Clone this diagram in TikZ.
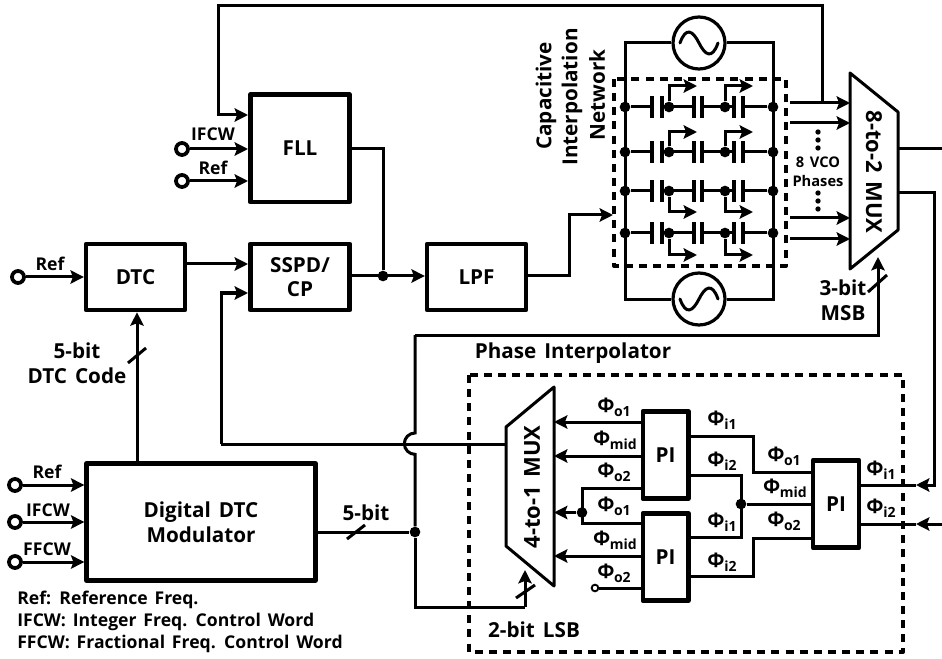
\documentclass[tikz,border=0pt]{standalone}
\usepackage{fontspec}
\setmainfont{Open Sans}[WordSpace=1.5]
\usepackage{tikz}
\usetikzlibrary{arrows.meta}
\def\labfont{\fontsize{13.2}{15}\selectfont\bfseries}
\def\bigfont{\fontsize{15.5}{19}\selectfont\bfseries}
\def\muxfont{\fontsize{16.5}{19}\selectfont\bfseries}
\def\ph#1{\fontsize{15}{16}\selectfont\bfseries Φ\kern-0.3pt\raisebox{-0.35ex}{\fontsize{10.5}{11}\selectfont #1}}
\def\busmark(#1)(#2)% Syntax: (first end) (second end)
    { \draw[wire] (#1) -- (#2); }
\tikzset{
  >={Stealth[length=10pt,width=10pt,inset=1.8pt]},
  wire/.style={line width=2.25pt,line join=miter},
  box/.style={draw,line width=3.4pt,line join=round,font=\bigfont,align=center,inner sep=0pt},
  term/.style={draw,circle,line width=2.8pt,fill=white,minimum size=9pt,inner sep=0pt},
  tinyterm/.style={draw,circle,line width=1.4pt,fill=white,minimum size=5pt,inner sep=0pt},
  jdot/.style={fill,circle,minimum size=8pt,inner sep=0pt},
  smalldot/.style={fill,circle,minimum size=4pt,inner sep=0pt},
  lab/.style={font=\labfont,inner sep=0pt},
  biglab/.style={font=\bigfont,align=center,inner sep=0pt},
  muxlab/.style={font=\muxfont,inner sep=0pt},
  philab/.style={inner sep=0pt},
  dashbox/.style={line width=3pt,dash pattern=on 6pt off 4.6pt,line join=round},
  plate/.style={line width=2.7pt}
}
\begin{document}
\begin{tikzpicture}[x=0.75pt,y=-0.75pt]
      \useasboundingbox (0,0) rectangle (942,659);

      %LEFT BLOCKS
      \node[box,minimum width=74.6pt,minimum height=80.6pt] (fll) at (300,148.5) {FLL};
      \node[box,minimum width=74.1pt,minimum height=49.6pt] (dtc) at (135.5,277) {DTC};
      \node[box,minimum width=74.6pt,minimum height=49.6pt] (sspd) at (300,277) {SSPD/\\[-1pt]CP};
      \node[box,minimum width=74.1pt,minimum height=49.6pt] (lpf) at (476.5,277) {LPF};
      \node[box,minimum width=171.6pt,minimum height=87.6pt] (mod) at (201,522) {Digital DTC\\Modulator};

      \node[term] (ifcwa) at (182,149) {}; %input pins
      \node[term] (refa) at (182,181) {};
      \node[term] (refb) at (18,277) {};
      \node[term] (refc) at (15,485) {};
      \node[term] (ifcwb) at (15,522) {};
      \node[term] (ffcw) at (15,562) {};

      \draw[wire,->] (ifcwa) -- (ifcwa -| fll.west);
      \draw[wire,->] (refa) -- (refa -| fll.west);
      \draw[wire,->] (refb) -- (refb -| dtc.west);
      \draw[wire,->] (refc) -- (refc -| mod.west);
      \draw[wire,->] (ifcwb) -- (ifcwb -| mod.west);
      \draw[wire,->] (ffcw) -- (ffcw -| mod.west);

      \node[lab] (lifcwa) at (213,134) {IFCW}; %input labels
      \node[lab] (lrefa) at (213,168) {Ref};
      \node[lab] (lrefb) at (50,264) {Ref};
      \node[lab] (lrefc) at (47,472) {Ref};
      \node[lab] (lifcwb) at (48,510) {IFCW};
      \node[lab] (lffcw) at (47,549) {FFCW};

      \coordinate (dtcout) at (186,264); %dtc to sspd
      \draw[wire,->] (dtcout) -- (dtcout -| sspd.west);
      \coordinate (fllout) at (383,149); %fll and sspd to lpf
      \node[jdot] (cpdot) at (383,276) {};
      \draw[wire] (fll.east |- fllout) -- (fllout) -- (cpdot);
      \draw[wire,->] (sspd.east |- cpdot) -- (lpf.west |- cpdot);

      \coordinate (modup) at (137,462); %modulator to dtc
      \draw[wire,->] (modup) -- (dtc.south -| modup);
      \busmark(128,363)(146,348)
      \node[biglab] (ldtccode) at (77,363) {5-bit\\DTC Code};

      %LEGEND
      \node[lab,anchor=west] (lega) at (17,600) {Ref: Reference Freq.};
      \node[lab,anchor=west] (legb) at (17,622) {IFCW: Integer Freq. Control Word};
      \node[lab,anchor=west] (legc) at (17,644) {FFCW: Fractional Freq. Control Word};

      %VCO CORE
      \node[draw,circle,line width=2.4pt,fill=white,minimum size=39pt,inner sep=0pt] (osca) at (699,43) {};
      \node[draw,circle,line width=2.4pt,fill=white,minimum size=39pt,inner sep=0pt] (oscb) at (699,299) {};
      \draw[wire,line cap=round,shift={(osca.center)}] (-19,0) .. controls (-13,-17) and (-6,-12) .. (0,0) .. controls (6,12) and (13,17) .. (19,0); %wave top
      \draw[wire,line cap=round,shift={(oscb.center)}] (-19,0) .. controls (-13,17) and (-6,12) .. (0,0) .. controls (6,-12) and (13,-17) .. (19,0); %wave bottom
      \coordinate (railtl) at (625,43);
      \coordinate (railtr) at (773,43);
      \coordinate (railbl) at (625,299);
      \coordinate (railbr) at (773,299);
      \draw[wire] (osca) -- (railtl) -- (railbl) -- (oscb);
      \draw[wire] (osca) -- (railtr) -- (railbr) -- (oscb);

      \foreach \rowname/\rowy/\tapy in {a/107/86,b/152/132,c/191/212,d/233/255} {
        \node[jdot] (l\rowname) at (625,\rowy) {}; %rail dots
        \node[jdot] (r\rowname) at (773,\rowy) {};
        \node[jdot] (m\rowname) at (669,\rowy) {}; %tap dots
        \node[jdot] (n\rowname) at (725,\rowy) {};
        \coordinate (ca\rowname) at (652,\rowy); %capacitor plates
        \coordinate (cb\rowname) at (662,\rowy);
        \coordinate (cc\rowname) at (694,\rowy);
        \coordinate (cd\rowname) at (702,\rowy);
        \coordinate (ce\rowname) at (734,\rowy);
        \coordinate (cf\rowname) at (743,\rowy);
        \draw[wire] (l\rowname) -- (ca\rowname);
        \draw[wire] (cb\rowname) -- (cc\rowname);
        \draw[wire] (cd\rowname) -- (ce\rowname);
        \draw[wire] (cf\rowname) -- (r\rowname);
        \foreach \capname in {ca,cb,cc,cd,ce,cf}
          \draw[plate] ([yshift=8pt]\capname\rowname) -- ([yshift=-8pt]\capname\rowname);
        \coordinate (ta\rowname) at (697,\tapy); %interpolated outputs
        \coordinate (tb\rowname) at (753,\tapy);
        \draw[wire,->] (m\rowname) |- (ta\rowname);
        \draw[wire,->] (n\rowname) |- (tb\rowname);
      }
      \draw[dashbox] (614,79) rectangle (786,266); %dashed network
      \node[biglab,rotate=90] (lcapa) at (546,96) {Capacitive};
      \node[biglab,rotate=90] (lcapb) at (572,97) {Interpolation};
      \node[biglab,rotate=90] (lcapc) at (597,95) {Network};

      \coordinate (lpfup) at (569,215); %lpf to network
      \draw[wire,->] (lpf.east |- 0,276) -| (lpfup) -- (613,215);

      %8-TO-2 MUX
      \coordinate (hia) at (850,73);
      \coordinate (hib) at (898,112);
      \coordinate (hic) at (898,230);
      \coordinate (hid) at (850,269);
      \draw[wire,line join=round] (hia) -- (hib) -- (hic) -- (hid) -- cycle;
      \node[muxlab,rotate=-90] (lhimux) at (874,172) {8-to-2 MUX};

      \coordinate (vca) at (790,103); %vco phases
      \coordinate (vcb) at (790,123);
      \coordinate (vcc) at (790,218);
      \coordinate (vcd) at (790,239);
      \draw[wire,->] (vca) -- (vca -| hia);
      \draw[wire,->] (vcb) -- (vcb -| hia);
      \draw[wire,->] (vcc) -- (vcc -| hia);
      \draw[wire,->] (vcd) -- (vcd -| hia);
      \foreach \doty in {132,140,148,193,201,209}
        \node[smalldot] (vd\doty) at (818,\doty) {};
      \node[lab,font=\fontsize{11}{12}\selectfont\bfseries] (lvco) at (818,162) {8 VCO};
      \node[lab,font=\fontsize{11}{12}\selectfont\bfseries] (lpha) at (818,181) {Phases};

      \coordinate (fbtap) at (822,103); %feedback to fll
      \coordinate (fbtop) at (218,6);
      \draw[wire,->] (fbtap) |- (fbtop) |- (fll.west |- 0,115);

      \coordinate (oeast) at (942,149); %mux outputs
      \draw[wire] (hib |- oeast) -- (oeast);
      \coordinate (obend) at (934,193);
      \coordinate (obot) at (934,485);

      %PHASE INTERPOLATOR
      \node[biglab] (lphint) at (573,353) {Phase Interpolator};
      \node[box,minimum width=34.1pt,minimum height=65.6pt] (pia) at (665.5,455) {PI};
      \node[box,minimum width=34.1pt,minimum height=65.6pt] (pib) at (665.5,557) {PI};
      \node[box,minimum width=34.6pt,minimum height=65.6pt] (pic) at (836,504) {PI};

      \coordinate (loa) at (554,387); %4-to-1 mux
      \coordinate (lob) at (506,427);
      \coordinate (loc) at (506,546);
      \coordinate (lod) at (554,586);
      \draw[wire,line join=round] (loa) -- (lob) -- (loc) -- (lod) -- cycle;
      \node[muxlab,rotate=90] (llomux) at (532,487) {4-to-1 MUX};

      \coordinate (ina) at (0,422); %pi outputs into mux
      \coordinate (inb) at (0,456);
      \coordinate (inc) at (0,556);
      \draw[wire,->] (pia.west |- ina) -- (loa |- ina);
      \draw[wire,->] (pia.west |- inb) -- (loa |- inb);
      \draw[wire,->] (pib.west |- inc) -- (loa |- inc);
      \node[jdot] (midl) at (582,512.5) {};
      \draw[wire,->] (midl) -- (loa |- midl);
      \coordinate (lefta) at (582,488);
      \coordinate (leftb) at (582,523);
      \draw[wire] (pia.west |- lefta) -- (lefta) -- (leftb) -- (pib.west |- leftb);
      \node[tinyterm] (nc) at (595,588) {};
      \draw[wire] (nc) -- (pib.west |- nc);

      \coordinate (ria) at (753,436); %first stage to second stage
      \coordinate (rib) at (753,472);
      \draw[wire] (pia.east |- ria) -- (ria) -- (rib) -- (pic.west |- rib);
      \coordinate (ric) at (741,475);
      \coordinate (rid) at (741,537);
      \draw[wire] (pia.east |- ric) -- (ric) -- (rid) -- (pib.east |- rid);
      \node[jdot] (midr) at (741,504) {};
      \draw[wire] (midr) -- (pic.west |- midr);
      \coordinate (rie) at (753,576);
      \coordinate (rif) at (753,538);
      \draw[wire] (pib.east |- rie) -- (rie) -- (rif) -- (pic.west |- rif);

      \node[philab] (pha) at (614,407) {\ph{o1}}; %phase labels
      \node[philab] (phb) at (615,440) {\ph{mid}};
      \node[philab] (phc) at (614,472) {\ph{o2}};
      \node[philab] (phd) at (614,506) {\ph{o1}};
      \node[philab] (phe) at (615,540) {\ph{mid}};
      \node[philab] (phf) at (614,573) {\ph{o2}};
      \node[philab] (phg) at (722,420) {\ph{i1}};
      \node[philab] (phh) at (722,461) {\ph{i2}};
      \node[philab] (phi) at (722,522) {\ph{i1}};
      \node[philab] (phj) at (722,562) {\ph{i2}};
      \node[philab] (phk) at (784,456) {\ph{o1}};
      \node[philab] (phl) at (785,488) {\ph{mid}};
      \node[philab] (phm) at (784,521) {\ph{o2}};
      \node[philab] (phn) at (881,470) {\ph{i1}};
      \node[philab] (pho) at (881,508) {\ph{i2}};

      \coordinate (tipa) at (916,485); %inputs from the 8-to-2 mux
      \coordinate (tipb) at (916,524);
      \coordinate (oeastb) at (942,524);
      \draw[wire,->] (hib |- obend) -| (obot) -- (tipa);
      \draw[wire] (tipa) -- (pic.east |- tipa);
      \draw[wire,->] (oeastb) -- (tipb);
      \draw[wire] (tipb) -- (pic.east |- tipb);

      \draw[dashbox] (469,375) rectangle (903,652); %dashed block
      \node[biglab] (llsb) at (534,630) {2-bit LSB};

      %SELECT LINES
      \node[jdot] (busdot) at (415,532) {};
      \draw[wire] (mod.east |- busdot) -- (busdot);
      \busmark(347,539)(365,525)
      \node[biglab] (lbus) at (366,513) {5-bit};

      \coordinate (selup) at (415,335); %msb select
      \coordinate (seltip) at (878,257);
      \draw[wire] (selup) -- (415,433) arc[start angle=90,end angle=270,radius=8pt] -- (busdot);
      \draw[wire,->] (selup) -| (seltip);
      \busmark(868,292)(887,275)
      \node[biglab] (lmsb) at (843,300) {3-bit\\MSB};

      \coordinate (lsbcor) at (525,607); %lsb select
      \coordinate (lsbtip) at (525,570);
      \draw[wire] (busdot) |- (lsbcor);
      \draw[wire,->] (lsbcor) -- (lsbtip);
      \busmark(516,598)(535,585)

      \coordinate (cpbend) at (221,444); %loop back to sspd
      \draw[wire] (lob |- cpbend) -- (cpbend);
      \draw[wire,->] (cpbend) |- (sspd.west |- 0,293);
    \end{tikzpicture}
\end{document}
